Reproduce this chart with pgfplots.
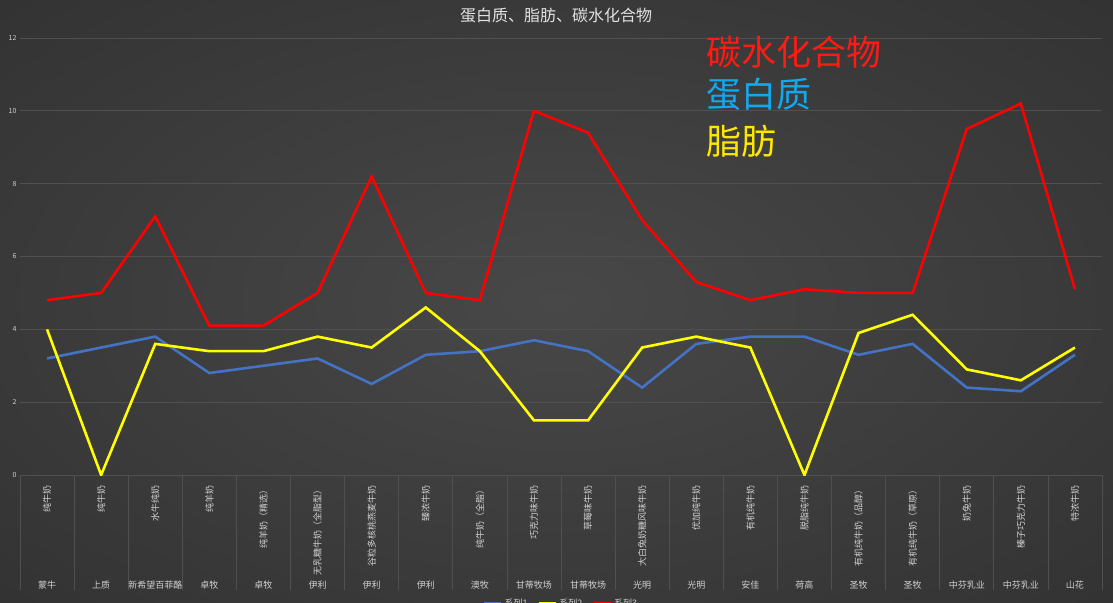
\documentclass[border=0pt]{standalone}
\usepackage{pgfplots}
\pgfplotsset{compat=1.18}
\usepackage{fontspec}
\setmainfont{Noto Sans CJK SC}

\definecolor{bgin}{HTML}{484848}
\definecolor{bgmid}{HTML}{3C3C3C}
\definecolor{bgedge}{HTML}{2A2A2A}
\definecolor{bgout}{HTML}{1C1C1C}
\definecolor{gridc}{HTML}{505050}
\definecolor{lab}{HTML}{D0D0D0}
\definecolor{titlec}{HTML}{E2E2E2}
\definecolor{protc}{HTML}{4472C4}
\definecolor{fatc}{HTML}{FFFF00}
\definecolor{carbc}{HTML}{FF0000}
\definecolor{annred}{HTML}{FF1A12}
\definecolor{annblue}{HTML}{12A8F0}
\definecolor{annyellow}{HTML}{FFE800}

\pgfdeclareradialshading{bgshade}{\pgfpoint{0bp}{0bp}}{color(0bp)=(bgin); color(20bp)=(bgmid); color(50bp)=(bgedge); color(72bp)=(bgout)}

\begin{document}
\begin{tikzpicture}
\shade[shading=bgshade] (0,0) rectangle (1113pt,602pt);
\useasboundingbox (0,0) rectangle (1113pt,602pt);

\begin{axis}[
    at={(20pt,127pt)}, anchor=south west,
    scale only axis, width=1082pt, height=437pt,
    xmin=-0.5, xmax=19.5, ymin=0, ymax=12,
    ytick={0,2,...,12},
    xtick={0,...,19},
    xticklabels={
        \rotatebox{90}{纯牛奶},
        \rotatebox{90}{纯牛奶},
        \rotatebox{90}{水牛纯奶},
        \rotatebox{90}{纯羊奶},
        \rotatebox{90}{纯羊奶（精选）},
        \rotatebox{90}{无乳糖牛奶（全脂型）},
        \rotatebox{90}{谷粒多核桃燕麦牛奶},
        \rotatebox{90}{臻浓牛奶},
        \rotatebox{90}{纯牛奶（全脂）},
        \rotatebox{90}{巧克力味牛奶},
        \rotatebox{90}{草莓味牛奶},
        \rotatebox{90}{大白兔奶糖风味牛奶},
        \rotatebox{90}{优加纯牛奶},
        \rotatebox{90}{有机纯牛奶},
        \rotatebox{90}{脱脂纯牛奶},
        \rotatebox{90}{有机纯牛奶（品醇）},
        \rotatebox{90}{有机纯牛奶（草原）},
        \rotatebox{90}{奶兔牛奶},
        \rotatebox{90}{榛子巧克力牛奶},
        \rotatebox{90}{特浓牛奶}},
    extra x ticks={0,...,19},
    extra x tick labels={蒙牛,上质,新希望百菲酪,卓牧,卓牧,伊利,伊利,伊利,澳牧,甘蒂牧场,甘蒂牧场,光明,光明,安佳,荷高,圣牧,圣牧,中芬乳业,中芬乳业,山花},
    extra x tick style={tick label style={yshift=-95pt}},
    minor xtick={-0.5,0.5,...,19.5},
    xtick pos=left, ytick pos=left,
    xtick align=outside,
    major tick length=0pt,
    minor tick length=115pt,
    minor tick style={draw=gridc, line width=0.8pt},
    axis line style={draw=none},
    ymajorgrids,
    grid style={draw=gridc, line width=0.8pt},
    xticklabel style={anchor=north, yshift=-7pt, text=lab, font=\fontsize{9}{10}\selectfont},
    yticklabel style={text=lab, font=\fontsize{7}{8}\selectfont},
    /pgf/number format/assume math mode=true,
    legend columns=3,
    legend style={at={(axis description cs:0.5,0)}, anchor=north, yshift=-120pt,
        draw=none, fill=none, text=lab, font=\fontsize{9}{10}\selectfont,
        /tikz/every even column/.append style={column sep=8pt}},
]
\addplot[protc, line width=2.6pt] coordinates {
(0,3.2) (1,3.5) (2,3.8) (3,2.8) (4,3.0) (5,3.2) (6,2.5) (7,3.3) (8,3.4) (9,3.7)
(10,3.4) (11,2.4) (12,3.6) (13,3.8) (14,3.8) (15,3.3) (16,3.6) (17,2.4) (18,2.3) (19,3.3)};
\addlegendentry{系列1}
\addplot[fatc, line width=2.6pt] coordinates {
(0,4.0) (1,0) (2,3.6) (3,3.4) (4,3.4) (5,3.8) (6,3.5) (7,4.6) (8,3.4) (9,1.5)
(10,1.5) (11,3.5) (12,3.8) (13,3.5) (14,0) (15,3.9) (16,4.4) (17,2.9) (18,2.6) (19,3.5)};
\addlegendentry{系列2}
\addplot[carbc, line width=2.6pt] coordinates {
(0,4.8) (1,5.0) (2,7.1) (3,4.1) (4,4.1) (5,5.0) (6,8.2) (7,5.0) (8,4.8) (9,10.0)
(10,9.4) (11,7.0) (12,5.3) (13,4.8) (14,5.1) (15,5.0) (16,5.0) (17,9.5) (18,10.2) (19,5.1)};
\addlegendentry{系列3}
\end{axis}

\node[text=titlec, font=\fontsize{16}{18}\selectfont] at (556pt,587pt) {蛋白质、脂肪、碳水化合物};
\node[anchor=west, inner sep=0pt, text=annred, font=\fontsize{35}{40}\selectfont] at (706pt,550pt) {碳水化合物};
\node[anchor=west, inner sep=0pt, text=annblue, font=\fontsize{35}{40}\selectfont] at (706pt,508pt) {蛋白质};
\node[anchor=west, inner sep=0pt, text=annyellow, font=\fontsize{35}{40}\selectfont] at (706pt,461pt) {脂肪};
\end{tikzpicture}
\end{document}
